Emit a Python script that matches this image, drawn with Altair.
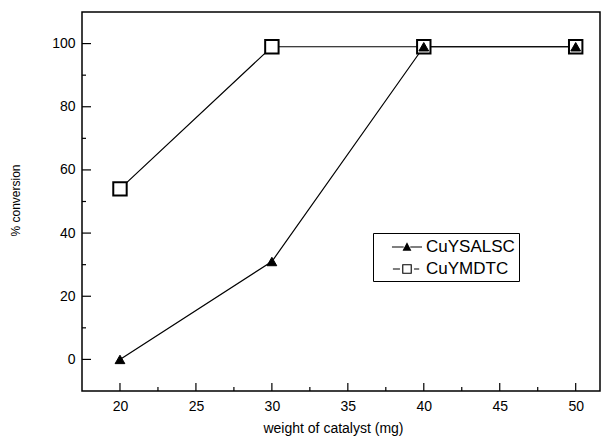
import altair as alt
import pandas as pd

# Catalyst loading (mg) and % conversion for the two complexes
weights = [20, 30, 40, 50]
cuysalsc = [0, 31, 99, 99]
cuymdtc = [54, 99, 99, 99]
series_names = ["CuYSALSC", "CuYMDTC"]

# Axis tick positions (major / minor)
x_major = [20, 25, 30, 35, 40, 45, 50]
x_minor = [22.5, 27.5, 32.5, 37.5, 42.5, 47.5]
y_major = [0, 20, 40, 60, 80, 100]
y_minor = [10, 30, 50, 70, 90]

W, H = 518, 379
X_DOM = [17.5, 51.6]
Y_DOM = [-10, 110]
FONT = "Liberation Sans"

df = pd.DataFrame(
    [{"w": w, "conv": v, "series": series_names[0]} for w, v in zip(weights, cuysalsc)]
    + [{"w": w, "conv": v, "series": series_names[1]} for w, v in zip(weights, cuymdtc)]
)

xs = alt.Scale(domain=X_DOM, nice=False, zero=False)
ys = alt.Scale(domain=Y_DOM, nice=False, zero=False)

# legend glyphs: short line segments on both sides of the marker
tri_path = "M-1.6,0H-0.35 M0.35,0H1.6 M-0.37,0.33L0,-0.37L0.37,0.33Z"
sq_path = "M-1.5,0H-0.75 M0.75,0H1.3 M-0.45,-0.45H0.45V0.45H-0.45Z"

legend = alt.Legend(
    title=None,
    orient="none",
    legendX=291,
    legendY=221,
    padding=4,
    strokeColor="black",
    fillColor="white",
    symbolSize=353,
    symbolOffset=20,
    labelOffset=9,
    rowPadding=4,
    labelFont=FONT,
    labelFontSize=17,
    labelColor="black",
    symbolStrokeColor="black",
    symbolStrokeWidth=1.1,
    symbolOpacity=1,
)

x_enc = alt.X(
    "w:Q",
    scale=xs,
    title="weight of catalyst (mg)",
    axis=alt.Axis(
        values=x_major,
        labelPadding=8,
        titleX=251,
        titleY=37,
        titleBaseline="middle",
    ),
)
y_enc = alt.Y(
    "conv:Q",
    scale=ys,
    title="% conversion",
    axis=alt.Axis(
        values=y_major,
        labelPadding=7,
        titleX=-67,
        titleY=188,
        titleAngle=-90,
        titleAlign="center",
        titleBaseline="middle",
        titleFontSize=12,
    ),
)

lines = alt.Chart(df).mark_line(color="black", strokeWidth=1.2).encode(
    x=x_enc, y=y_enc, detail="series:N"
)

squares = (
    alt.Chart(df)
    .transform_filter(alt.datum.series == "CuYMDTC")
    .mark_point(shape="square", stroke="black", fill="white", strokeWidth=2,
                size=180, opacity=1, filled=True)
    .encode(x="w:Q", y="conv:Q")
)

triangles = (
    alt.Chart(df)
    .transform_filter(alt.datum.series == "CuYSALSC")
    .mark_point(shape="triangle-up", stroke="black", fill="black", strokeWidth=1,
                size=95, opacity=1, filled=True)
    .encode(x="w:Q", y="conv:Q")
)

# invisible layer that carries the legend (line + marker glyphs)
legend_layer = (
    alt.Chart(df)
    .mark_point(opacity=0, filled=False)
    .encode(
        x="w:Q",
        y="conv:Q",
        shape=alt.Shape(
            "series:N",
            scale=alt.Scale(domain=series_names, range=[tri_path, sq_path]),
            legend=legend,
        ),
        fill=alt.Fill(
            "series:N",
            scale=alt.Scale(domain=series_names, range=["black", "white"]),
            legend=legend,
        ),
        stroke=alt.Stroke(
            "series:N",
            scale=alt.Scale(domain=series_names, range=["black", "black"]),
            legend=legend,
        ),
    )
)

# inward-pointing ticks along the bottom and left frame
xt_major = pd.DataFrame({"t": x_major})
xt_minor = pd.DataFrame({"t": x_minor})
yt_major = pd.DataFrame({"t": y_major})
yt_minor = pd.DataFrame({"t": y_minor})

def xticks(d, length):
    return alt.Chart(d).mark_rule(color="black", strokeWidth=1.2).encode(
        x=alt.X("t:Q", scale=xs), y=alt.value(H), y2=alt.value(H - length)
    )

def yticks(d, length):
    return alt.Chart(d).mark_rule(color="black", strokeWidth=1.2).encode(
        y=alt.Y("t:Q", scale=ys), x=alt.value(0), x2=alt.value(length)
    )

chart = (
    alt.layer(
        xticks(xt_major, 8),
        xticks(xt_minor, 4),
        yticks(yt_major, 9),
        yticks(yt_minor, 4),
        lines,
        squares,
        triangles,
        legend_layer,
    )
    .properties(
        width=W,
        height=H,
        autosize=alt.AutoSizeParams(type="none"),
        padding={"left": 82, "top": 12, "right": 10, "bottom": 52},
        background="white",
    )
    .configure_view(stroke="black", strokeWidth=1.5)
    .configure_axis(
        domain=False,
        ticks=False,
        grid=False,
        labelFont=FONT,
        labelFontSize=14,
        labelColor="black",
        titleFont=FONT,
        titleFontSize=14,
        titleFontWeight="normal",
        titleColor="black",
    )
)

chart.save("out.html", embed_options={"renderer": "svg", "actions": False})
